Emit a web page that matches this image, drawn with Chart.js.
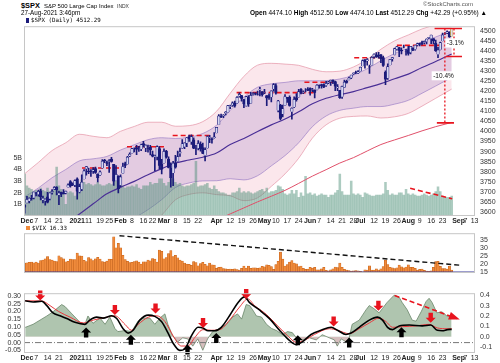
<!DOCTYPE html>
<html><head><meta charset="utf-8">
<script src="https://cdn.jsdelivr.net/npm/chart.js@4.4.1/dist/chart.umd.min.js"></script>
<style>
body{margin:0;background:#fff;}
#wrap{position:relative;width:500px;height:363px;overflow:hidden;font-family:'Liberation Sans',Arial,sans-serif;color:#000;background:#fff;}
canvas{position:absolute;left:0;}
.t{position:absolute;white-space:nowrap;line-height:1;}
</style></head><body><div id="wrap">
<canvas id="c1" width="500" height="209" style="top:17px"></canvas>
<canvas id="c2" width="500" height="59" style="top:224px"></canvas>
<canvas id="c3" width="500" height="79" style="top:284px"></canvas>
<div class="t" style="left:21px;top:1.5px;font-size:7.4px;font-weight:bold">$SPX</div>
<div class="t" style="left:44px;top:2.5px;font-size:6px">S&amp;P 500 Large Cap Index</div>
<div class="t" style="left:117px;top:3.5px;font-size:5px;color:#333">INDX</div>
<div class="t" style="left:21px;top:10px;font-size:6.3px">27-Aug-2021 3:46pm</div>
<div class="t" style="left:423px;top:1px;font-size:6px;color:#555">©StockCharts.com</div>
<div class="t" style="left:250px;top:10px;font-size:6.5px"><b>Open</b> 4474.10 <b>High</b> 4512.50 <b>Low</b> 4474.10 <b>Last</b> 4512.29 <b>Chg</b> +42.29 (+0.95%) ▲</div>
<div class="t" style="left:26px;top:17.5px;width:3px;height:5px;background:#1b1b7a"></div>
<div class="t" style="left:31px;top:17.5px;font-size:5.8px;font-family:'DejaVu Sans Mono',monospace">$SPX (Daily) 4512.29</div>
<div class="t" style="left:26px;top:226px;width:4px;height:4px;background:#f08a3a"></div>
<div class="t" style="left:32px;top:225.5px;font-size:5.8px;font-family:'DejaVu Sans Mono',monospace">$VIX 16.33</div>
</div>
<script>
const FONT = "'Liberation Sans', Arial, Helvetica, sans-serif";
const X_MIN = -0.3, X_MAX = 197.2;

// x-axis ticks (trading-day index -> label)
const tickPos  = [1,5,10,15,23,28,33,37,42,47,52,56,61,66,71,76,84,90,95,100,105,110,115,120,125,129,134,139,144,147,153,158,163,168,173,178,183,190,193,197];
const tickText = ['Dec','7','14','21','2021','11','19','25','Feb','8','16','22','Mar','8','15','22','Apr','12','19','26','May','10','17','24','Jun','7','14','21','28','Jul','12','19','26','Aug','9','16','23','Sep','7','13'];

const priceTicks = [3600,3650,3700,3750,3800,3850,3900,3950,4000,4050,4100,4150,4200,4250,4300,4350,4400,4450,4500];
const volTicks = [1,2,3,4,5];
const vixTicks = [15,20,25,30,35];
const momLeftTicks = [-0.05,0,0.05,0.1,0.15,0.2,0.25,0.3];
const momRightTicks = [-0.1,0,0.1,0.2,0.3,0.4];

// daily $SPX OHLC, Nov 30 2020 .. Aug 27 2021 (index 0..187)
const openP = [3634,3645,3654,3668,3670,3694,3687,3705,3659,3656,
3675,3666,3696,3713,3722,3684,3698,3693,3694,3723,
3751,3736,3734,3764,3698,3713,3764,3815,3803,3802,
3803,3815,3788,3782,3817,3858,3845,3851,3863,3837,
3755,3779,3732,3791,3840,3837,3878,3892,3911,3920,
3916,3912,3940,3918,3915,3921,3885,3874,3874,3915,
3839,3842,3903,3863,3818,3793,3844,3851,3891,3916,
3924,3943,3974,3949,3958,3914,3916,3937,3920,3880,
3917,3969,3964,3967,3993,4034,4075,4077,4090,4096,
4125,4130,4141,4140,4175,4179,4159,4128,4170,4139,
4185,4188,4185,4207,4198,4192,4179,4178,4170,4211,
4228,4104,4131,4087,4129,4170,4170,4098,4121,4168,
4171,4211,4192,4201,4210,4216,4207,4206,4207,4229,
4233,4233,4229,4242,4248,4255,4248,4216,4205,4173,
4219,4249,4257,4267,4284,4293,4290,4300,4326,4357,
4351,4322,4330,4373,4381,4380,4382,4367,4296,4265,
4331,4361,4381,4409,4417,4403,4420,4396,4407,4393,
4416,4408,4429,4437,4442,4442,4447,4464,4462,4462,
4440,4383,4406,4450,4484,4490,4493,4474];
const highP = [3638,3678,3670,3682,3699,3697,3708,3712,3679,3665,
3697,3695,3711,3726,3726,3703,3698,3711,3703,3740,
3756,3744,3760,3770,3738,3784,3811,3826,3818,3811,
3820,3823,3789,3804,3860,3862,3853,3860,3871,3837,
3830,3779,3784,3843,3848,3876,3894,3916,3919,3931,
3926,3937,3951,3933,3932,3931,3902,3882,3929,3925,
3862,3914,3906,3874,3844,3851,3881,3903,3918,3960,
3944,3970,3982,3983,3969,3931,3955,3949,3942,3919,
3978,3981,3969,3994,4020,4084,4086,4084,4099,4130,
4131,4148,4151,4174,4192,4180,4160,4175,4179,4195,
4194,4194,4201,4219,4199,4210,4179,4187,4202,4238,
4237,4155,4135,4131,4184,4170,4177,4117,4172,4188,
4210,4213,4202,4213,4218,4217,4215,4207,4233,4232,
4236,4237,4249,4249,4256,4257,4251,4233,4205,4226,
4256,4256,4271,4281,4292,4300,4303,4320,4356,4358,
4362,4330,4372,4386,4393,4394,4382,4375,4302,4337,
4359,4369,4415,4422,4418,4416,4430,4408,4423,4424,
4416,4429,4440,4440,4449,4449,4461,4468,4480,4462,
4454,4418,4444,4489,4492,4501,4496,4513];
const lowP = [3594,3645,3645,3658,3664,3679,3678,3660,3645,3634,
3645,3660,3688,3710,3685,3636,3676,3690,3689,3723,
3723,3730,3726,3663,3695,3706,3764,3783,3790,3776,
3792,3792,3749,3780,3817,3845,3830,3796,3847,3732,
3755,3694,3726,3791,3820,3837,3875,3892,3898,3885,
3901,3905,3923,3900,3897,3884,3874,3805,3859,3814,
3789,3842,3867,3819,3723,3730,3818,3851,3876,3916,
3915,3924,3950,3936,3915,3885,3908,3902,3889,3853,
3917,3944,3942,3967,3993,4034,4069,4069,4082,4096,
4114,4124,4121,4140,4170,4151,4119,4126,4124,4139,
4180,4182,4181,4177,4175,4188,4128,4159,4147,4201,
4185,4097,4058,4073,4129,4145,4126,4061,4118,4151,
4171,4187,4188,4197,4203,4180,4198,4167,4207,4215,
4215,4218,4224,4238,4229,4238,4203,4203,4164,4165,
4218,4240,4257,4263,4282,4287,4287,4300,4326,4315,
4330,4289,4330,4364,4368,4365,4342,4323,4233,4259,
4331,4350,4381,4405,4372,4386,4415,4380,4380,4386,
4402,4404,4425,4425,4430,4436,4436,4461,4437,4435,
4398,4367,4406,4450,4482,4486,4468,4474];
const closeP = [3622,3662,3669,3666,3699,3691,3702,3673,3668,3663,
3647,3695,3702,3722,3709,3694,3687,3690,3703,3735,
3727,3732,3756,3701,3726,3748,3804,3825,3799,3801,
3810,3795,3768,3799,3852,3853,3841,3855,3849,3751,
3787,3714,3774,3826,3830,3872,3887,3915,3911,3910,
3916,3934,3933,3932,3914,3907,3876,3881,3925,3829,
3811,3901,3871,3820,3768,3842,3821,3875,3899,3939,
3943,3969,3963,3974,3915,3913,3941,3911,3889,3910,
3975,3971,3959,3973,4020,4078,4074,4080,4097,4129,
4128,4142,4125,4170,4185,4163,4135,4173,4135,4180,
4188,4187,4184,4211,4181,4193,4165,4168,4202,4233,
4189,4152,4063,4113,4174,4164,4128,4116,4160,4156,
4198,4189,4196,4201,4204,4202,4208,4192,4230,4227,
4227,4220,4239,4247,4255,4246,4224,4222,4166,4224,
4246,4242,4266,4281,4291,4291,4298,4320,4352,4344,
4358,4320,4369,4385,4369,4374,4360,4327,4258,4323,
4359,4368,4412,4422,4401,4401,4419,4395,4387,4423,
4403,4429,4437,4432,4436,4448,4460,4468,4480,4449,
4400,4406,4442,4480,4486,4497,4470,4512];
// volume, billions of shares
const volume = [3.6,2.6,2.4,2.3,2.1,2.2,2.0,2.4,2.2,2.1,
2.4,2.1,2.2,2.2,4.2,2.6,2.3,2.0,1.0,2.0,
2.1,2.0,1.7,3.0,2.7,3.1,2.9,2.7,2.8,2.7,
2.6,2.7,2.9,2.7,2.6,2.6,2.7,2.8,2.7,3.4,
3.1,3.2,2.8,2.6,2.4,2.5,2.5,2.6,2.5,2.7,
2.4,2.3,2.6,2.6,2.6,2.9,2.7,2.8,2.8,3.2,
3.2,2.8,2.6,2.9,3.3,3.2,2.9,2.7,2.8,2.6,
2.5,2.6,2.6,2.7,2.8,4.7,2.5,2.6,2.6,2.7,
2.8,2.4,2.3,2.6,2.3,2.1,2.0,2.0,1.9,1.8,
1.8,2.0,2.0,2.1,2.4,2.0,2.1,2.0,2.1,2.0,
1.9,2.0,2.1,2.2,2.3,2.1,2.4,2.0,2.1,2.1,
2.2,2.6,2.5,2.3,1.9,1.8,1.9,2.2,1.9,2.2,
1.6,2.0,1.7,3.4,1.9,2.0,1.8,1.9,1.7,1.8,
1.9,1.8,1.8,1.6,1.8,1.8,2.0,2.2,3.6,2.1,
1.8,1.8,1.8,3.0,1.9,1.8,1.9,1.8,1.6,2.0,
1.9,1.8,1.7,1.7,1.8,1.8,1.8,1.9,2.9,2.2,
1.8,1.9,1.8,1.8,2.0,2.0,1.8,2.3,1.9,1.8,
1.9,1.8,1.7,1.7,1.8,1.9,1.8,1.7,1.8,1.9,
2.1,2.5,2.1,1.7,1.6,1.6,1.6,1.7];
const vix = [20.6,20.8,21.2,21.3,20.8,21.3,20.7,22.3,22.5,23.3,
24.7,22.9,22.5,21.9,21.6,25.2,24.2,23.3,21.5,21.7,
23.1,22.8,22.8,27.0,25.3,25.1,22.4,21.6,24.1,23.3,
22.2,23.3,24.3,23.2,21.6,21.3,21.9,23.2,23.0,37.2,
30.2,33.1,30.2,25.6,22.9,21.8,20.9,21.2,21.6,22.0,
21.3,20.0,21.5,21.5,22.5,22.1,23.5,23.1,21.3,28.9,
28.0,23.4,24.1,26.7,28.6,24.7,25.5,24.0,22.6,21.9,
20.7,20.0,19.8,19.2,21.6,21.0,18.9,20.3,21.2,19.8,
18.9,20.7,19.6,19.4,17.3,17.9,18.1,17.2,17.0,16.7,
16.9,16.7,17.0,16.6,16.3,17.3,18.7,17.5,18.7,17.3,
17.6,17.6,17.3,17.6,18.6,18.3,19.5,19.2,18.4,16.7,
19.7,21.8,27.6,23.1,18.8,19.7,21.3,22.2,20.7,20.2,
18.4,18.8,17.4,16.7,16.8,17.9,17.5,18.0,16.4,16.4,
17.1,17.9,16.1,15.7,16.4,17.0,18.2,17.8,20.7,17.9,
16.7,16.3,16.0,15.6,15.8,16.0,15.8,15.5,15.1,16.4,
16.2,19.0,16.2,16.2,17.1,16.3,17.0,18.5,22.5,19.7,
17.9,17.7,17.2,17.6,19.4,18.3,17.7,18.2,19.5,18.0,
18.0,17.3,16.2,16.7,16.8,16.1,15.6,15.5,15.7,17.9,
21.6,21.7,18.6,17.2,17.2,16.8,18.8,16.3];

// 50-day MA and its 2 / 3 std-dev bands, read at intervals
const bandIdx = [0,6,12,18,24,30,36,42,48,54,60,66,72,78,84,90,96,102,108,114,120,126,132,138,144,150,156,162,168,174,180,187];
const ma50 = [3445,3465,3500,3545,3590,3640,3690,3722,3752,3785,3815,3843,3858,3872,3893,3935,3965,4000,4033,4062,4098,4138,4165,4183,4198,4218,4238,4262,4285,4318,4348,4385];
const up3 = [3790,3846,3905,3944,3986,3976,3969,4001,4025,4046,4046,4026,4029,4049,4100,4190,4274,4330,4339,4335,4329,4309,4297,4300,4321,4359,4409,4451,4480,4510,4531,4559];
const up2 = [3675,3719,3770,3811,3854,3864,3876,3908,3934,3959,3969,3965,3972,3990,4031,4105,4171,4220,4237,4244,4252,4252,4253,4261,4280,4312,4352,4388,4415,4446,4470,4501];
const dn2 = [3215,3211,3230,3279,3326,3416,3504,3536,3570,3611,3661,3721,3744,3754,3755,3765,3759,3780,3829,3880,3944,4024,4077,4105,4116,4124,4124,4136,4155,4190,4226,4269];
const dn3 = [3100,3084,3095,3146,3194,3304,3411,3443,3479,3524,3584,3660,3687,3695,3686,3680,3656,3670,3727,3789,3867,3967,4033,4066,4075,4077,4067,4073,4090,4126,4165,4211];
const ma200Idx = [78,84,90,96,102,108,114,120,126,132,138,144,150,156,162,168,174,180,187];
const ma200 = [3530,3560,3590,3620,3650,3678,3707,3742,3778,3810,3843,3870,3903,3935,3958,3980,4003,4024,4045];

// red dashed resistance lines
const resFrom = [25.1,44.8,64.8,92.8,122.5,144.3,163];
const resTo   = [42.6,62.2,82.3,126.9,136.5,158.3,182];
const resLevel = [3818,3924,3980,4193,4245,4367,4428];
// drawdown markers
const dimTopIdx = [179.5,191.5], dimTopVal = 4512;
const dimAIdx = 188, dimALow = 4373, dimABar = [184.5,191.5];
const dimBIdx = 184, dimBLow = 4043, dimBBar = [180.5,188];
const dimLabelText = ['-3.1%','-10.4%'];
const dimLabelIdx = [188.6,183.4];
const dimLabelVal = [4440,4277];
const volTrendIdx = [168.8,187.2], volTrendVal = [2.38,1.48];

// VIX trend line
const vixTrendIdx = [41.5,191.5], vixTrendVal = [37.9,19.2];

// lower panel
const greenIdx = [0.2,3.7,9.7,12.4,16.2,17.7,20.7,24.2,26.4,27.7,29.9,33.0,35.2,37.3,39.5,40.8,43.9,46.8,49.6,51.7,54.8,57.0,59.2,61.4,62.7,64.8,67.0,69.2,71.4,73.6,75.8,78.0,80.1,82.3,85.4,88.4,91.1,93.2,95.0,97.0,98.5,99.8,101.5,103.7,105.9,108.1,110.3,112.9,115.1,117.2,119.0,121.6,124.7,127.7,130.3,133.4,135.6,136.9,138.6,140.8,142.1,143.4,146.5,149.5,150.9,153.0,155.2,156.6,158.7,161.8,164.0,165.3,167.5,169.7,171.4,173.6,175.8,177.1,178.4,180.5,182.7,184.9,187];
const greenVal = [0.09,0.12,0.20,0.24,0.31,0.29,0.22,0.14,0.12,0.20,0.13,0.18,0.12,0.19,0.08,0.05,0.06,0.05,0.15,0.18,0.18,0.12,0.18,0.22,0.12,0.01,-0.05,-0.01,-0.02,-0.09,-0.02,-0.13,-0.02,0.05,0.08,0.12,0.19,0.22,0.17,0.31,0.30,0.26,0.20,0.19,0.12,0.08,0.06,0.02,0.05,0.04,-0.01,-0.03,-0.01,-0.03,0.02,-0.01,-0.03,-0.09,-0.02,-0.05,-0.01,0.12,0.16,0.26,0.30,0.27,0.23,0.27,0.33,0.40,0.38,0.33,0.26,0.16,0.15,0.24,0.34,0.37,0.33,0.23,0.24,0.20,0.20];
const blackIdx = [0.2,3.7,7.5,9.7,12.4,15.5,18.4,22.0,26.4,28.5,31.5,34.3,38.1,40.3,43.1,45.3,47.5,50.4,54.1,57.0,59.9,62.8,65.0,67.9,70.1,73.0,75.9,78.1,80.3,83.2,86.1,89.7,93.4,96.3,98.5,102.8,107.2,111.6,115.2,118.9,121.7,125.4,129.8,134.2,137.0,140.7,142.9,146.5,150.9,154.5,156.7,158.9,161.1,164.0,168.4,174.1,177.8,180.7,182.9,185.1,187];
const blackVal = [0.268,0.26,0.265,0.237,0.19,0.172,0.154,0.13,0.117,0.144,0.163,0.157,0.172,0.154,0.089,0.061,0.079,0.144,0.176,0.168,0.135,0.061,-0.004,-0.05,-0.041,0.043,0.098,0.094,0.076,0.076,0.098,0.172,0.256,0.293,0.256,0.209,0.154,0.079,0.024,-0.013,0.006,0.052,0.079,0.098,0.079,0.052,0.061,0.098,0.144,0.163,0.144,0.098,0.083,0.107,0.113,0.107,0.113,0.079,0.076,0.083,0.085];
const redIdx = [0.2,7.5,11.1,14.8,19.9,25.7,30.0,35.9,39.5,43.9,46.8,49.7,54.1,57.7,61.4,65.0,68.6,71.5,74.5,78.1,81.7,85.4,89.7,94.1,97.7,100.7,105.8,110.8,115.2,118.9,122.5,126.9,133.4,137.0,142.1,146.5,150.9,155.2,158.2,161.1,165.5,171.3,177.1,180.7,185.1,187];
const redVal = [0.268,0.267,0.237,0.20,0.163,0.126,0.144,0.163,0.172,0.117,0.079,0.117,0.163,0.172,0.135,0.043,-0.022,-0.022,0.033,0.083,0.079,0.083,0.144,0.228,0.28,0.237,0.181,0.107,0.043,0.002,0.015,0.052,0.089,0.079,0.057,0.089,0.126,0.157,0.135,0.098,0.102,0.107,0.117,0.094,0.089,0.089];
const redArrowIdx = [6.8,39.5,57.3,78.1,97.0,135.3,154.9,177.8];
const redArrowVal = [0.302,0.209,0.218,0.126,0.311,0.135,0.237,0.159];
const blackArrowIdx = [26.9,46.5,71.3,83.9,119.6,142.1,165.0];
const blackArrowVal = [0.065,0.018,-0.044,0.029,0.015,0.0,0.067];
const momTrendIdx = [162,189.3], momTrendVal = [0.397,0.175];

// ---------- helpers ----------
const pts = (xs, ys) => xs.map((x,i)=>({x, y:ys[i]}));
const days = closeP.map((_,i)=>i);
const NAVY = '#1b1b7a';

function xAxis(display){
  return {type:'linear', min:X_MIN, max:X_MAX, offset:false, display,
    grid:{display:false, drawTicks:false}, border:{display:false},
    afterBuildTicks: s => { s.ticks = tickPos.map(v=>({value:v})); },
    afterFit: s => { s.height = 10; },
    ticks:{autoSkip:false, maxRotation:0, minRotation:0, padding:1, color:'#222',
      font: c => ({family:FONT, size:7, weight: /[A-Za-z]|2021/.test(tickText[c.index]||'') ? 'bold':'normal'}),
      callback: (v,i) => tickText[i]}};
}
function yAxis(pos, min, max, ticks, fmt, width, pad){
  return {type:'linear', position:pos, min, max,
    grid:{display:false, drawTicks:false}, border:{display:false},
    afterBuildTicks: s => { s.ticks = ticks.map(v=>({value:v})); },
    afterFit: s => { s.width = width; },
    ticks:{autoSkip:false, padding:pad, color:'#333', font:{family:FONT, size:7}, callback: v => fmt(v)}};
}
const frame = {id:'frame', afterDraw(chart){
  const {ctx, chartArea:a} = chart; ctx.save(); ctx.strokeStyle='#c6c6c6'; ctx.lineWidth=1;
  ctx.strokeRect(a.left+0.5, a.top+0.5, a.right-a.left-1, a.bottom-a.top-1); ctx.restore(); }};
const base = {responsive:false, animation:false, events:[], plugins:{legend:{display:false}, tooltip:{enabled:false}}};
const line = (data, color, width, axis, extra) => Object.assign({type:'line', data, borderColor:color, borderWidth:width, pointRadius:0, fill:false, yAxisID:axis, cubicInterpolationMode:'monotone'}, extra||{});

// ---------- chart 1 : price ----------
const resDatasets = resLevel.map((lv,i)=> line([{x:resFrom[i],y:lv},{x:resTo[i],y:lv}], '#e8141e', 1.6, 'yP', {borderDash:[5,3], order:6}));
const dimLabels = {id:'dimLabels', afterDatasetsDraw(chart){
  const {ctx, scales:{x, yP}} = chart; ctx.save(); ctx.font='6.5px '+FONT; ctx.textAlign='center'; ctx.textBaseline='middle';
  dimLabelText.forEach((t,i)=>{ const px=x.getPixelForValue(dimLabelIdx[i]), py=yP.getPixelForValue(dimLabelVal[i]);
    const w=ctx.measureText(t).width+3; ctx.fillStyle='#fff'; ctx.fillRect(px-w/2, py-4.5, w, 9); ctx.fillStyle='#111'; ctx.fillText(t, px, py+0.5); });
  ctx.restore(); }};
new Chart(document.getElementById('c1'), {type:'bar',
  data:{datasets:[
    line(pts(bandIdx, up3), 'rgba(228,150,168,0.9)', 0.8, 'yP', {fill:'+1', backgroundColor:'rgba(240,170,185,0.28)', order:20}),
    line(pts(bandIdx, dn3), 'rgba(228,150,168,0.9)', 0.8, 'yP', {order:19}),
    line(pts(bandIdx, up2), 'rgba(150,120,195,0.8)', 0.8, 'yP', {fill:'+1', backgroundColor:'rgba(140,105,185,0.22)', order:18}),
    line(pts(bandIdx, dn2), 'rgba(150,120,195,0.8)', 0.8, 'yP', {order:17}),
    {type:'bar', data:pts(days, volume), yAxisID:'yV', backgroundColor:'rgba(70,140,115,0.45)', barThickness:1.9, grouped:false, order:15},
    line(pts(ma200Idx, ma200), '#e0506a', 1, 'yP', {order:12}),
    line(pts(bandIdx, ma50), '#4a2f96', 1.2, 'yP', {order:11}),
    ...resDatasets,
    line(pts(volTrendIdx, volTrendVal), '#e8141e', 1.6, 'yV', {borderDash:[5,3], order:6}),
    {type:'bar', data:days.map(i=>({x:i, y:[lowP[i], highP[i]]})), yAxisID:'yP', barThickness:1, grouped:false,
      backgroundColor: days.map(i=> i===187 ? '#b89a2a' : NAVY), order:4},
    {type:'bar', data:days.map(i=>({x:i, y:[openP[i], closeP[i]]})), yAxisID:'yP', barThickness:2.6, grouped:false, borderWidth:0.7,
      backgroundColor: days.map(i=> closeP[i] >= openP[i] ? 'rgba(225,225,248,0.95)' : NAVY),
      borderColor: days.map(i=> i===187 ? '#b89a2a' : NAVY), order:3},
    line([{x:dimTopIdx[0],y:dimTopVal},{x:dimTopIdx[1],y:dimTopVal}], '#e8141e', 1.6, 'yP', {order:1, cubicInterpolationMode:'default'}),
    line([{x:dimAIdx,y:dimTopVal},{x:dimAIdx,y:dimALow}], '#e8141e', 1.3, 'yP', {borderDash:[2,2], order:1, cubicInterpolationMode:'default'}),
    line([{x:dimABar[0],y:dimALow},{x:dimABar[1],y:dimALow}], '#e8141e', 1.6, 'yP', {order:1, cubicInterpolationMode:'default'}),
    line([{x:dimBIdx,y:dimTopVal},{x:dimBIdx,y:dimBLow}], '#e8141e', 1.3, 'yP', {borderDash:[2,2], order:1, cubicInterpolationMode:'default'}),
    line([{x:dimBBar[0],y:dimBLow},{x:dimBBar[1],y:dimBLow}], '#e8141e', 1.6, 'yP', {order:1, cubicInterpolationMode:'default'})
  ]},
  options:Object.assign({}, base, {layout:{padding:0, autoPadding:false},
    scales:{ x:xAxis(true),
      yV: yAxis('left', 0, 16.3, volTicks, v=>v+'B', 24, 2),
      yP: yAxis('right', 3579.6, 4523.6, priceTicks, v=>String(v), 25, 5) }}),
  plugins:[frame, dimLabels]});

// ---------- chart 2 : VIX ----------
new Chart(document.getElementById('c2'), {type:'bar',
  data:{datasets:[
    {type:'bar', data:pts(days, vix), yAxisID:'yX', base:14.4, backgroundColor:'#f08a3a', borderColor:'#c0601a', borderWidth:0.5, barThickness:2.3, grouped:false, order:3},
    line(pts(vixTrendIdx, vixTrendVal), '#111', 1.4, 'yX', {borderDash:[5,3], order:2}),
    line([{x:X_MIN,y:15},{x:X_MAX,y:15}], '#3b3b9c', 1.2, 'yX', {order:1})
  ]},
  options:Object.assign({}, base, {layout:{padding:{left:24,right:0,top:0,bottom:0}, autoPadding:false},
    scales:{ x:xAxis(false), yX: yAxis('right', 14.4, 39.5, vixTicks, v=>String(v), 25, 5) }}),
  plugins:[frame]});

// ---------- chart 3 : momentum ----------
const arrows = {id:'arrows', afterDatasetsDraw(chart){
  const {ctx, scales:{x, yL, yR}} = chart; ctx.save();
  const draw = (cx, cy, dir, color) => { ctx.fillStyle=color; ctx.beginPath();
    const sw=2.2, sh=5, hw=5, hh=5;
    ctx.moveTo(cx-sw, cy-dir*sh); ctx.lineTo(cx+sw, cy-dir*sh); ctx.lineTo(cx+sw, cy); ctx.lineTo(cx+hw, cy);
    ctx.lineTo(cx, cy+dir*hh); ctx.lineTo(cx-hw, cy); ctx.lineTo(cx-sw, cy); ctx.closePath(); ctx.fill(); };
  redArrowIdx.forEach((v,i)=>draw(x.getPixelForValue(v), yL.getPixelForValue(redArrowVal[i]), 1, '#e8141e'));
  blackArrowIdx.forEach((v,i)=>draw(x.getPixelForValue(v), yL.getPixelForValue(blackArrowVal[i]), -1, '#000'));
  const x0=x.getPixelForValue(momTrendIdx[0]), y0=yR.getPixelForValue(momTrendVal[0]);
  const x1=x.getPixelForValue(momTrendIdx[1]), y1=yR.getPixelForValue(momTrendVal[1]);
  const a=Math.atan2(y1-y0, x1-x0), L=8, W=4;
  ctx.fillStyle='#e8141e'; ctx.beginPath();
  ctx.moveTo(x1+Math.cos(a)*3, y1+Math.sin(a)*3);
  ctx.lineTo(x1-Math.cos(a)*L+Math.sin(a)*W, y1-Math.sin(a)*L-Math.cos(a)*W);
  ctx.lineTo(x1-Math.cos(a)*L-Math.sin(a)*W, y1-Math.sin(a)*L+Math.cos(a)*W);
  ctx.closePath(); ctx.fill(); ctx.restore(); }};
new Chart(document.getElementById('c3'), {type:'line',
  data:{datasets:[
    line(pts(greenIdx, greenVal), 'rgba(95,125,95,0.9)', 0.8, 'yR', {cubicInterpolationMode:'default', tension:0,
      fill:{target:{value:0}, above:'rgba(110,150,110,0.55)', below:'rgba(165,110,110,0.45)'}, order:5}),
    line([{x:X_MIN,y:0},{x:X_MAX,y:0}], '#777', 1, 'yL', {borderDash:[6,2,1,2], order:4}),
    line(pts(redIdx, redVal), '#e8383c', 1, 'yL', {order:3}),
    line(pts(blackIdx, blackVal), '#000', 1.6, 'yL', {order:2}),
    line(pts(momTrendIdx, momTrendVal), '#e8141e', 1.6, 'yR', {borderDash:[5,3], order:1})
  ]},
  options:Object.assign({}, base, {layout:{padding:0, autoPadding:false},
    scales:{ x:xAxis(true),
      yL: yAxis('left', -0.0667, 0.3167, momLeftTicks, v=>v.toFixed(2), 24, 3),
      yR: yAxis('right', -0.156, 0.419, momRightTicks, v=>v.toFixed(1), 25, 5) }}),
  plugins:[frame, arrows]});
</script>
</body></html>
